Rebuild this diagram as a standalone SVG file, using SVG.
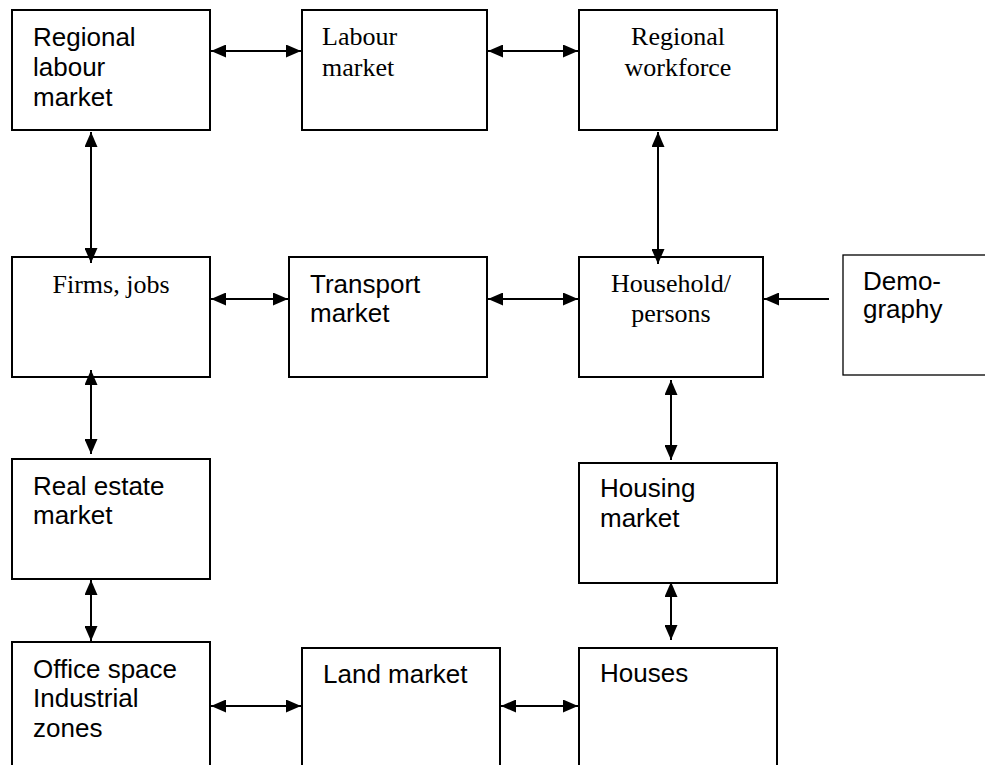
<svg xmlns="http://www.w3.org/2000/svg" width="985" height="765" viewBox="0 0 985 765">
<style>
.box{fill:#fff;stroke:#000;stroke-width:2}
.thin{stroke-width:1.3}
.sans{font-family:"Liberation Sans",Arial,sans-serif;font-size:26px;fill:#000}
.serif{font-family:"Liberation Serif","Times New Roman",serif;font-size:26px;fill:#000}
.mid{text-anchor:middle}
.conn line{stroke:#000;stroke-width:2;fill:none}
.bi{marker-start:url(#ah);marker-end:url(#ah)}
.uni{marker-end:url(#ah)}
</style>
<defs>
<marker id="ah" markerUnits="userSpaceOnUse" markerWidth="15" markerHeight="13" refX="15" refY="6.5" orient="auto-start-reverse" viewBox="0 0 15 13">
<path d="M0,0 L15,6.5 L0,13 z" fill="#000"/>
</marker>
</defs>
<rect width="985" height="765" fill="#fff"/>

<g id="regional-labour-market">
<rect class="box" x="12" y="10" width="198" height="120"/>
<text class="sans" x="33" y="46">Regional</text>
<text class="sans" x="33" y="76">labour</text>
<text class="sans" x="33" y="106">market</text>
</g>
<g id="labour-market">
<rect class="box" x="302" y="10" width="185" height="120"/>
<text class="serif" x="322" y="45">Labour</text>
<text class="serif" x="322" y="76">market</text>
</g>
<g id="regional-workforce">
<rect class="box" x="579" y="10" width="198" height="120"/>
<text class="serif mid" x="678" y="45">Regional</text>
<text class="serif mid" x="678" y="76">workforce</text>
</g>
<g id="firms-jobs">
<rect class="box" x="12" y="257" width="198" height="120"/>
<text class="serif mid" x="111" y="293">Firms, jobs</text>
</g>
<g id="transport-market">
<rect class="box" x="289" y="257" width="198" height="120"/>
<text class="sans" x="310" y="293">Transport</text>
<text class="sans" x="310" y="322">market</text>
</g>
<g id="household-persons">
<rect class="box" x="579" y="257" width="184" height="120"/>
<text class="serif mid" x="671" y="292">Household/</text>
<text class="serif mid" x="671" y="322">persons</text>
</g>
<g id="demography">
<rect class="box thin" x="843" y="255" width="160" height="120"/>
<text class="sans" x="863" y="290">Demo-</text>
<text class="sans" x="863" y="318">graphy</text>
</g>
<g id="real-estate-market">
<rect class="box" x="12" y="459" width="198" height="120"/>
<text class="sans" x="33" y="495">Real estate</text>
<text class="sans" x="33" y="524">market</text>
</g>
<g id="housing-market">
<rect class="box" x="579" y="463" width="198" height="120"/>
<text class="sans" x="600" y="497">Housing</text>
<text class="sans" x="600" y="527">market</text>
</g>
<g id="office-space">
<rect class="box" x="12" y="642" width="198" height="140"/>
<text class="sans" x="33" y="678">Office space</text>
<text class="sans" x="33" y="707">Industrial</text>
<text class="sans" x="33" y="737">zones</text>
</g>
<g id="land-market">
<rect class="box" x="302" y="648" width="198" height="140"/>
<text class="sans" x="323" y="683">Land market</text>
</g>
<g id="houses">
<rect class="box" x="579" y="648" width="198" height="140"/>
<text class="sans" x="600" y="682">Houses</text>
</g>

<g id="connectors" class="conn">
<line class="bi" x1="211" y1="51" x2="301" y2="51"/>
<line class="bi" x1="488" y1="51" x2="578" y2="51"/>
<line class="bi" x1="91" y1="132" x2="91" y2="263"/>
<line class="bi" x1="91" y1="370" x2="91" y2="454"/>
<line class="bi" x1="91" y1="580" x2="91" y2="641"/>
<line class="bi" x1="211" y1="299" x2="288" y2="299"/>
<line class="bi" x1="488" y1="299" x2="578" y2="299"/>
<line class="uni" x1="829" y1="299" x2="764" y2="299"/>
<line class="bi" x1="658" y1="132" x2="658" y2="264"/>
<line class="bi" x1="671" y1="380" x2="671" y2="460"/>
<line class="bi" x1="671" y1="582" x2="671" y2="640"/>
<line class="bi" x1="211" y1="706" x2="301" y2="706"/>
<line class="bi" x1="501" y1="706" x2="578" y2="706"/>
</g>
</svg>
